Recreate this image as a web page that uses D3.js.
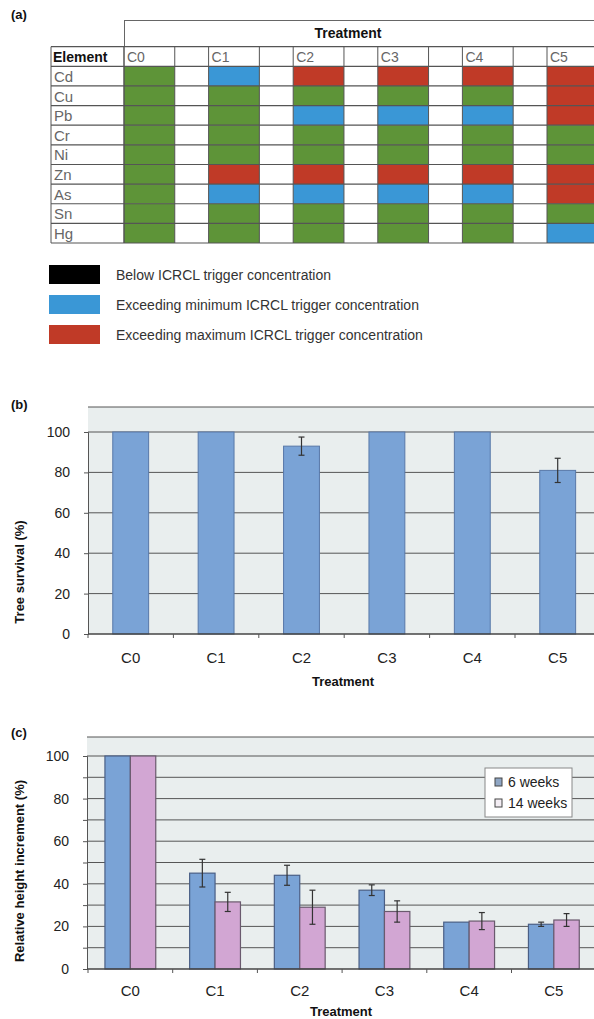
<!DOCTYPE html>
<html>
<head>
<meta charset="utf-8">
<script src="https://cdn.jsdelivr.net/npm/d3@7"></script>
<style>
  html, body { margin: 0; padding: 0; background: #fff; }
  svg { display: block; }
  .narrow { font-family: "Liberation Sans Narrow", "Liberation Sans", Arial, sans-serif; }
  .sans { font-family: "Liberation Sans", Arial, sans-serif; }
</style>
</head>
<body>
<svg id="fig" width="594" height="1019"></svg>
<script>
// ---- data ----
const elements = ["Cd", "Cu", "Pb", "Cr", "Ni", "Zn", "As", "Sn", "Hg"];
const treatments = ["C0", "C1", "C2", "C3", "C4", "C5"];
// 0 = below trigger, 1 = exceeding minimum, 2 = exceeding maximum
const status = [
  [0, 1, 2, 2, 2, 2], // Cd
  [0, 0, 0, 0, 0, 2], // Cu
  [0, 0, 1, 1, 1, 2], // Pb
  [0, 0, 0, 0, 0, 0], // Cr
  [0, 0, 0, 0, 0, 0], // Ni
  [0, 2, 2, 2, 2, 2], // Zn
  [0, 1, 1, 1, 1, 2], // As
  [0, 0, 0, 0, 0, 0], // Sn
  [0, 0, 0, 0, 0, 1]  // Hg
];
const statusLabels = [
  "Below ICRCL trigger concentration",
  "Exceeding minimum ICRCL trigger concentration",
  "Exceeding maximum ICRCL trigger concentration"
];
const survival = [100, 100, 93, 100, 100, 81];
const survivalErr = [0, 0, 4.5, 0, 0, 6];
const seriesNames = ["6 weeks", "14 weeks"];
const height6 = [100, 45, 44, 37, 22, 21];
const err6 = [0, 6.5, 4.7, 2.5, 0, 1];
const height14 = [100, 31.5, 29, 27, 22.5, 23];
const err14 = [0, 4.5, 8, 5, 4, 3];
const survivalTicks = [0, 20, 40, 60, 80, 100];
const heightTicks = [0, 20, 40, 60, 80, 100];

// ---- styles ----
const cellColors = ["#5e9438", "#3a97d6", "#c03a27"];
const legendSwatch = ["#000000", "#3a97d6", "#c03a27"];
const barBlue = "#7aa3d6";
const barPink = "#d2a6d3";
const plotBg = "#e9eeee";
const gridCol = "#555";

const svg = d3.select("#fig");

function panelLabel(txt, x, y) {
  svg.append("text").attr("class", "sans")
    .attr("x", x).attr("y", y)
    .attr("font-size", 13).attr("font-weight", 900)
    .attr("fill", "#111").text(txt);
}

// =========== (a) contamination table ===========
panelLabel("(a)", 11, 19);
const ta = svg.append("g");
const tx = d3.scaleBand().domain(treatments).range([124, 124 + 6 * 84.6]);
const cellW = tx.bandwidth() * 0.6;
const ty = d3.scaleBand().domain(["__head"].concat(elements)).range([46.7, 243]);
const tableLeft = 51, tableRight = 600;

// coloured cells
elements.forEach((el, i) => {
  treatments.forEach((t, j) => {
    ta.append("rect")
      .attr("x", tx(t)).attr("y", ty(el))
      .attr("width", cellW).attr("height", ty.bandwidth())
      .attr("fill", cellColors[status[i][j]]);
  });
});

// header band "Treatment"
ta.append("line").attr("x1", 124).attr("x2", tableRight).attr("y1", 20.5).attr("y2", 20.5)
  .attr("stroke", "#666").attr("stroke-width", 1);
ta.append("line").attr("x1", 124.5).attr("x2", 124.5).attr("y1", 20).attr("y2", 47)
  .attr("stroke", "#666").attr("stroke-width", 1);
ta.append("text").attr("class", "sans")
  .attr("x", 348).attr("y", 38).attr("text-anchor", "middle")
  .attr("font-size", 14).attr("font-weight", "bold").attr("fill", "#111")
  .text("Treatment");

// horizontal rules
ty.domain().concat(["__end"]).forEach((r, i) => {
  const y = r === "__end" ? 243 : ty(r);
  ta.append("line").attr("x1", tableLeft).attr("x2", tableRight)
    .attr("y1", y).attr("y2", y)
    .attr("stroke", "#555").attr("stroke-width", 1.2);
});
// vertical rules
const vx = [tableLeft, 124];
treatments.forEach(t => { vx.push(tx(t)); vx.push(tx(t) + cellW); });
vx.forEach(x => {
  ta.append("line").attr("x1", x).attr("x2", x).attr("y1", 46.7).attr("y2", 243)
    .attr("stroke", "#555").attr("stroke-width", 1);
});

// header texts
ta.append("text").attr("class", "sans")
  .attr("x", 53).attr("y", 62).attr("font-size", 14).attr("font-weight", "bold")
  .attr("fill", "#111").text("Element");
treatments.forEach(t => {
  ta.append("text").attr("class", "sans")
    .attr("x", tx(t) + 3).attr("y", 62).attr("font-size", 14)
    .attr("fill", "#666").text(t);
});
elements.forEach(el => {
  ta.append("text").attr("class", "sans")
    .attr("x", 54).attr("y", ty(el) + ty.bandwidth() - 4)
    .attr("font-size", 15).attr("fill", "#666").text(el);
});

// legend
const lg = svg.append("g");
statusLabels.forEach((lab, i) => {
  const y0 = 265 + i * 30;
  lg.append("rect").attr("x", 49).attr("y", y0).attr("width", 51).attr("height", 19)
    .attr("fill", legendSwatch[i]);
  lg.append("text").attr("class", "sans")
    .attr("x", 116).attr("y", y0 + 15).attr("font-size", 14)
    .attr("fill", "#333").text(lab);
});

// =========== shared plotting helpers ===========
function plotFrame(g, left, top, right, bottom) {
  g.append("rect").attr("x", left).attr("y", top)
    .attr("width", right - left).attr("height", bottom - top)
    .attr("fill", plotBg);
  g.append("line").attr("x1", left).attr("x2", right).attr("y1", top).attr("y2", top)
    .attr("stroke", gridCol).attr("stroke-width", 1);
}

function errorBar(g, x, yTop, yBot) {
  g.append("line").attr("x1", x).attr("x2", x).attr("y1", yTop).attr("y2", yBot)
    .attr("stroke", "#333").attr("stroke-width", 1.2);
  [yTop, yBot].forEach(y => {
    g.append("line").attr("x1", x - 3).attr("x2", x + 3).attr("y1", y).attr("y2", y)
      .attr("stroke", "#333").attr("stroke-width", 1.2);
  });
}

// =========== (b) tree survival ===========
panelLabel("(b)", 11, 409);
const gb = svg.append("g");
const bLeft = 88, bRight = 600, bTop = 407, bBottom = 634;
const yb = d3.scaleLinear().domain([0, 100]).range([bBottom, 432]);
const xb = d3.scaleBand().domain(treatments).range([bLeft, bLeft + 6 * 85.4])
  .paddingInner(0.58).paddingOuter(0.29);
plotFrame(gb, bLeft, bTop, bRight, bBottom);

// gridlines
gb.selectAll(".gb").data(survivalTicks.filter(d => d > 0)).enter().append("line")
  .attr("x1", bLeft).attr("x2", bRight)
  .attr("y1", d => yb(d)).attr("y2", d => yb(d))
  .attr("stroke", gridCol).attr("stroke-width", 1);

// bars
gb.selectAll(".bar").data(treatments).enter().append("rect")
  .attr("x", d => xb(d)).attr("width", xb.bandwidth())
  .attr("y", (d, i) => yb(survival[i]))
  .attr("height", (d, i) => bBottom - yb(survival[i]))
  .attr("fill", barBlue).attr("stroke", "#5878a8").attr("stroke-width", 1);

treatments.forEach((t, i) => {
  if (survivalErr[i] > 0) {
    errorBar(gb, xb(t) + xb.bandwidth() / 2,
      yb(survival[i] + survivalErr[i]), yb(survival[i] - survivalErr[i]));
  }
});

// axes
const yAxisB = d3.axisLeft(yb).tickValues(survivalTicks).tickSize(4).tickPadding(14);
gb.append("g").attr("transform", `translate(${bLeft},0)`).call(yAxisB)
  .call(g => g.select(".domain").attr("stroke", gridCol))
  .call(g => g.selectAll(".tick line").attr("stroke", gridCol))
  .call(g => g.selectAll("text").attr("class", "narrow").attr("font-size", 14)
    .attr("fill", "#222").attr("font-family", null));

gb.append("line").attr("x1", bLeft).attr("x2", bRight)
  .attr("y1", bBottom).attr("y2", bBottom).attr("stroke", "#444").attr("stroke-width", 1.5);
d3.range(7).forEach(i => {
  const x = bLeft + i * xb.step();
  gb.append("line").attr("x1", x).attr("x2", x).attr("y1", bBottom).attr("y2", bBottom + 4)
    .attr("stroke", "#555");
});
treatments.forEach(t => {
  gb.append("text").attr("class", "narrow")
    .attr("x", xb(t) + xb.bandwidth() / 2).attr("y", 663)
    .attr("text-anchor", "middle").attr("font-size", 15).attr("fill", "#222").text(t);
});
gb.append("text").attr("class", "sans")
  .attr("x", 343).attr("y", 686).attr("text-anchor", "middle")
  .attr("font-size", 13).attr("font-weight", "bold").attr("fill", "#111").text("Treatment");
gb.append("text").attr("class", "sans")
  .attr("transform", "translate(24,572) rotate(-90)")
  .attr("text-anchor", "middle").attr("font-size", 13).attr("font-weight", "bold")
  .attr("fill", "#111").text("Tree survival (%)");

// =========== (c) relative height increment ===========
panelLabel("(c)", 11, 737);
const gc = svg.append("g");
const cLeft = 87, cRight = 600, cTop = 737, cBottom = 969;
const yc = d3.scaleLinear().domain([0, 100]).range([cBottom, 756]);
const xc = d3.scaleBand().domain(treatments).range([88, 88 + 6 * 84.7])
  .paddingInner(0.4).paddingOuter(0.2);
const xs = d3.scaleBand().domain(seriesNames).range([0, xc.bandwidth()]);
plotFrame(gc, cLeft, cTop, cRight, cBottom);

gc.selectAll(".gc").data(d3.range(10, 101, 10)).enter().append("line")
  .attr("x1", cLeft).attr("x2", cRight)
  .attr("y1", d => yc(d)).attr("y2", d => yc(d))
  .attr("stroke", gridCol).attr("stroke-width", 1);

const series = [
  { name: seriesNames[0], vals: height6, errs: err6, fill: barBlue, stroke: "#4a5f86" },
  { name: seriesNames[1], vals: height14, errs: err14, fill: barPink, stroke: "#6a5a6e" }
];
series.forEach(s => {
  gc.selectAll(null).data(treatments).enter().append("rect")
    .attr("x", d => xc(d) + xs(s.name)).attr("width", xs.bandwidth())
    .attr("y", (d, i) => yc(s.vals[i]))
    .attr("height", (d, i) => cBottom - yc(s.vals[i]))
    .attr("fill", s.fill).attr("stroke", s.stroke).attr("stroke-width", 1.2);
});
series.forEach(s => {
  treatments.forEach((t, i) => {
    if (s.errs[i] > 0) {
      errorBar(gc, xc(t) + xs(s.name) + xs.bandwidth() / 2,
        yc(s.vals[i] + s.errs[i]), yc(s.vals[i] - s.errs[i]));
    }
  });
});

const yAxisC = d3.axisLeft(yc).tickValues(d3.range(0, 101, 10)).tickSize(4).tickPadding(14)
  .tickFormat(d => heightTicks.includes(d) ? d : "");
gc.append("g").attr("transform", `translate(${cLeft},0)`).call(yAxisC)
  .call(g => g.select(".domain").attr("stroke", gridCol))
  .call(g => g.selectAll(".tick line").attr("stroke", gridCol))
  .call(g => g.selectAll("text").attr("class", "narrow").attr("font-size", 14)
    .attr("fill", "#222").attr("font-family", null));

gc.append("line").attr("x1", cLeft).attr("x2", cRight)
  .attr("y1", cBottom).attr("y2", cBottom).attr("stroke", "#444").attr("stroke-width", 1.5);
d3.range(7).forEach(i => {
  const x = 88 + i * xc.step();
  gc.append("line").attr("x1", x).attr("x2", x).attr("y1", cBottom).attr("y2", cBottom + 4)
    .attr("stroke", "#555");
});
treatments.forEach(t => {
  gc.append("text").attr("class", "narrow")
    .attr("x", xc(t) + xc.bandwidth() / 2).attr("y", 996)
    .attr("text-anchor", "middle").attr("font-size", 15).attr("fill", "#222").text(t);
});
gc.append("text").attr("class", "sans")
  .attr("x", 341).attr("y", 1016).attr("text-anchor", "middle")
  .attr("font-size", 13).attr("font-weight", "bold").attr("fill", "#111").text("Treatment");
gc.append("text").attr("class", "sans")
  .attr("transform", "translate(24,871) rotate(-90)")
  .attr("text-anchor", "middle").attr("font-size", 13).attr("font-weight", "bold")
  .attr("fill", "#111").text("Relative height increment (%)");

// legend box
const lc = gc.append("g");
lc.append("rect").attr("x", 485).attr("y", 768).attr("width", 87).attr("height", 49)
  .attr("fill", "#fff").attr("stroke", "#888").attr("stroke-width", 1);
series.forEach((s, i) => {
  const cy = 782 + i * 21;
  lc.append("rect").attr("x", 495).attr("y", cy - 4).attr("width", 7).attr("height", 8)
    .attr("fill", i === 0 ? "#8fa6c4" : "#f4eef4").attr("stroke", "#444").attr("stroke-width", 1);
  lc.append("text").attr("class", "narrow")
    .attr("x", 508).attr("y", cy + 5).attr("font-size", 14).attr("fill", "#222").text(s.name);
});
</script>
</body>
</html>
